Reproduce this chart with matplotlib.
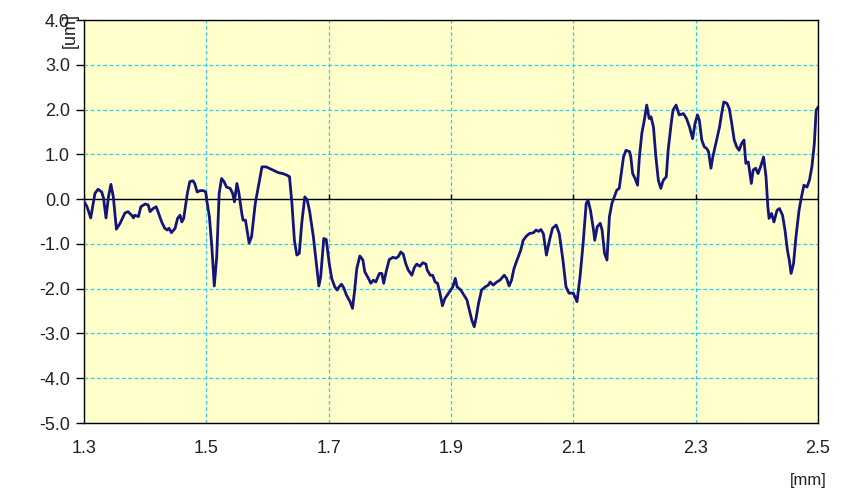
import matplotlib
matplotlib.use("Agg")
import matplotlib.pyplot as plt
import numpy as np

plt.rcParams['font.family'] = ['Liberation Sans', 'DejaVu Sans']

# surface profile, position [mm] and height [um]
pos_mm = [
    1.300, 1.305, 1.311, 1.318, 1.323, 1.329, 1.332, 1.336, 1.340, 1.344,
    1.348, 1.353, 1.359, 1.367, 1.372, 1.378, 1.381, 1.383, 1.389, 1.393,
    1.400, 1.405, 1.408, 1.413, 1.418, 1.421, 1.427, 1.432, 1.436, 1.439,
    1.443, 1.449, 1.453, 1.457, 1.460, 1.463, 1.469, 1.473, 1.478, 1.481,
    1.485, 1.490, 1.495, 1.499, 1.501, 1.505, 1.509, 1.513, 1.517, 1.521,
    1.525, 1.529, 1.533, 1.539, 1.543, 1.546, 1.550, 1.553, 1.558, 1.560,
    1.564, 1.570, 1.574, 1.580, 1.585, 1.591, 1.598, 1.604, 1.612, 1.618,
    1.625, 1.631, 1.636, 1.640, 1.644, 1.648, 1.652, 1.656, 1.661, 1.665,
    1.669, 1.675, 1.680, 1.684, 1.687, 1.692, 1.696, 1.701, 1.705, 1.710,
    1.714, 1.717, 1.721, 1.725, 1.729, 1.735, 1.739, 1.742, 1.746, 1.751,
    1.756, 1.759, 1.765, 1.769, 1.773, 1.777, 1.783, 1.787, 1.790, 1.794,
    1.799, 1.805, 1.810, 1.814, 1.818, 1.822, 1.826, 1.830, 1.836, 1.840,
    1.844, 1.849, 1.854, 1.859, 1.861, 1.866, 1.870, 1.874, 1.878, 1.882,
    1.886, 1.890, 1.895, 1.903, 1.907, 1.910, 1.916, 1.921, 1.926, 1.930,
    1.934, 1.938, 1.941, 1.945, 1.950, 1.956, 1.961, 1.964, 1.969, 1.975,
    1.980, 1.987, 1.991, 1.995, 1.999, 2.003, 2.008, 2.014, 2.018, 2.023,
    2.028, 2.035, 2.039, 2.043, 2.047, 2.051, 2.056, 2.061, 2.066, 2.072,
    2.077, 2.083, 2.088, 2.093, 2.100, 2.106, 2.111, 2.116, 2.121, 2.124,
    2.128, 2.133, 2.135, 2.139, 2.144, 2.147, 2.151, 2.155, 2.159, 2.163,
    2.167, 2.171, 2.175, 2.179, 2.182, 2.186, 2.192, 2.194, 2.197, 2.201,
    2.205, 2.208, 2.212, 2.216, 2.220, 2.224, 2.227, 2.231, 2.235, 2.239,
    2.243, 2.247, 2.252, 2.255, 2.260, 2.263, 2.268, 2.273, 2.280, 2.285,
    2.290, 2.295, 2.299, 2.303, 2.306, 2.310, 2.314, 2.318, 2.321, 2.325,
    2.328, 2.333, 2.339, 2.343, 2.346, 2.351, 2.355, 2.359, 2.363, 2.367,
    2.371, 2.375, 2.379, 2.382, 2.386, 2.389, 2.391, 2.394, 2.398, 2.402,
    2.406, 2.411, 2.415, 2.418, 2.420, 2.424, 2.428, 2.433, 2.437, 2.442,
    2.446, 2.450, 2.453, 2.456, 2.460, 2.464, 2.469, 2.473, 2.477, 2.482,
    2.486, 2.490, 2.494, 2.497, 2.500,
]
height_um = [
    -0.05, -0.17, -0.42, 0.13, 0.22, 0.16, 0.02, -0.42, 0.05, 0.33,
    0.05, -0.67, -0.54, -0.31, -0.28, -0.36, -0.42, -0.36, -0.39, -0.17,
    -0.11, -0.13, -0.28, -0.21, -0.17, -0.28, -0.51, -0.65, -0.69, -0.65,
    -0.75, -0.65, -0.43, -0.36, -0.51, -0.43, 0.13, 0.39, 0.41, 0.35,
    0.16, 0.19, 0.19, 0.16, -0.05, -0.39, -1.06, -1.94, -1.29, 0.13,
    0.46, 0.39, 0.27, 0.24, 0.13, -0.06, 0.35, 0.16, -0.32, -0.47,
    -0.47, -0.98, -0.84, -0.10, 0.27, 0.72, 0.72, 0.68, 0.63, 0.59,
    0.57, 0.54, 0.50, -0.10, -0.92, -1.25, -1.21, -0.54, 0.05, -0.02,
    -0.28, -0.84, -1.44, -1.94, -1.73, -0.88, -0.90, -1.44, -1.77, -1.96,
    -2.03, -1.96, -1.90, -1.99, -2.14, -2.29, -2.44, -2.10, -1.55, -1.27,
    -1.36, -1.62, -1.77, -1.88, -1.81, -1.85, -1.66, -1.66, -1.88, -1.62,
    -1.35, -1.30, -1.32, -1.28, -1.18, -1.23, -1.44, -1.58, -1.70, -1.53,
    -1.45, -1.50, -1.42, -1.45, -1.58, -1.70, -1.70, -1.85, -1.88, -2.10,
    -2.38, -2.22, -2.12, -1.96, -1.77, -1.96, -2.03, -2.14, -2.25, -2.48,
    -2.70, -2.85, -2.66, -2.33, -2.03, -1.96, -1.92, -1.85, -1.92, -1.85,
    -1.81, -1.70, -1.77, -1.94, -1.81, -1.55, -1.36, -1.14, -0.92, -0.83,
    -0.77, -0.75, -0.69, -0.72, -0.68, -0.77, -1.25, -0.92, -0.65, -0.58,
    -0.77, -1.36, -1.96, -2.10, -2.10, -2.29, -1.73, -0.99, -0.10, -0.02,
    -0.25, -0.69, -0.92, -0.62, -0.54, -0.69, -1.21, -1.36, -0.39, -0.10,
    0.05, 0.20, 0.24, 0.65, 0.94, 1.09, 1.06, 0.94, 0.57, 0.46,
    0.31, 0.94, 1.47, 1.76, 2.10, 1.80, 1.84, 1.61, 0.94, 0.42,
    0.24, 0.42, 0.50, 1.09, 1.69, 1.99, 2.10, 1.88, 1.91, 1.80,
    1.61, 1.35, 1.69, 1.88, 1.76, 1.32, 1.17, 1.13, 1.06, 0.69,
    0.94, 1.24, 1.61, 1.95, 2.17, 2.14, 2.02, 1.69, 1.32, 1.17,
    1.09, 1.24, 1.32, 0.80, 0.83, 0.54, 0.35, 0.65, 0.69, 0.57,
    0.72, 0.94, 0.50, -0.17, -0.43, -0.32, -0.51, -0.25, -0.21, -0.36,
    -0.69, -1.14, -1.36, -1.66, -1.44, -0.84, -0.25, 0.05, 0.31, 0.27,
    0.42, 0.72, 1.24, 1.99, 2.05,
]

x_ticks = [1.3, 1.5, 1.7, 1.9, 2.1, 2.3, 2.5]
y_ticks = [-5.0, -4.0, -3.0, -2.0, -1.0, 0.0, 1.0, 2.0, 3.0, 4.0]

fig = plt.figure(figsize=(8.44, 4.94), dpi=100)
ax = fig.add_axes([0.0995, 0.1437, 0.8697, 0.8158])
ax.set_facecolor('#FFFFCC')

ax.set_xlim(1.3, 2.5)
ax.set_ylim(-5.0, 4.0)
ax.set_xticks(x_ticks)
ax.set_yticks(y_ticks)
ax.set_xticklabels([f'{v:.1f}' for v in x_ticks])
ax.set_yticklabels([f'{v:.1f}' for v in y_ticks])

ax.grid(True, color='#33CCEE', linestyle=(0, (3, 2)), linewidth=0.9)
ax.set_axisbelow(True)

# zero line with small ticks where the x grid crosses it
ax.axhline(0, color='black', linewidth=1.0, zorder=2)
ax.vlines(x_ticks, 0, 0.12, color='black', linewidth=1.0, zorder=2)

ax.plot(pos_mm, height_um, color='#14147A', linewidth=2.0, zorder=3,
        solid_joinstyle='round')

for s in ax.spines.values():
    s.set_color('black')
    s.set_linewidth(1.0)

ax.tick_params(axis='x', length=0, pad=12, labelsize=13, labelcolor='#222222')
ax.tick_params(axis='y', length=6, width=1.0, direction='out', pad=4,
               labelsize=13, labelcolor='#222222')

fig.text(70 / 844, 1 - 30 / 494, '[um]', rotation=90, ha='center', va='center',
         fontsize=13, color='#222222')
fig.text(808 / 844, 1 - 480 / 494, '[mm]', ha='center', va='center',
         fontsize=12, color='#222222')

fig.savefig('out.png', dpi=100)
